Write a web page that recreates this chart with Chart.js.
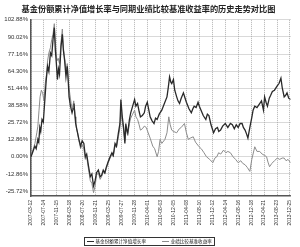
<!DOCTYPE html>
<html>
<head>
<meta charset="utf-8">
<script src="https://cdn.jsdelivr.net/npm/chart.js@4"></script>
<style>
  body { margin: 0; background: #fff; }
  #wrap { width: 300px; height: 247px; }
</style>
</head>
<body>
<div id="wrap"><canvas id="histChart"></canvas></div>
<script>
// x tick labels (one every ~4 months)
const xTickLabels = ['2007-03-12', '2007-07-14', '2007-11-15', '2008-03-18', '2008-07-20', '2008-11-21',
  '2009-03-25', '2009-07-27', '2009-11-28', '2010-04-01', '2010-08-03', '2010-12-05', '2011-04-08',
  '2011-08-10', '2011-12-12', '2012-04-14', '2012-08-16', '2012-12-18', '2013-04-21', '2013-08-23', '2013-12-25'];
const yTickValues = [-25.72, -12.86, 0, 12.86, 25.72, 38.58, 51.44, 64.30, 77.16, 90.02, 102.88];

// fund: position in tick intervals, value in %
const fundX = [0, 0.15, 0.3, 0.4, 0.53, 0.6, 0.68, 0.75, 0.85, 0.95, 1.05, 1.18, 1.28, 1.38, 1.5, 1.6, 1.7, 1.8, 1.88, 1.96,
  2.04, 2.12, 2.2, 2.32, 2.42, 2.5, 2.6, 2.7, 2.8, 2.88, 2.94, 3.05, 3.17, 3.25, 3.32, 3.4, 3.45, 3.55, 3.7, 3.83,
  3.95, 4.08, 4.2, 4.3, 4.45, 4.58, 4.7, 4.83, 4.95, 5.06, 5.2, 5.34, 5.45, 5.58, 5.7, 5.81, 5.95, 6.11, 6.25, 6.35,
  6.49, 6.6, 6.75, 6.87, 6.94, 7.05, 7.15, 7.25, 7.32, 7.4, 7.47, 7.6, 7.7, 7.85, 8.0, 8.1, 8.23, 8.35, 8.45, 8.6,
  8.75, 8.85, 8.98, 9.1, 9.2, 9.35, 9.5, 9.62, 9.74, 9.9, 10.1, 10.3, 10.5, 10.6, 10.7, 10.8, 10.87, 11.0, 11.1, 11.25,
  11.35, 11.47, 11.6, 11.77, 11.9, 12.0, 12.2, 12.38, 12.5, 12.6, 12.75, 12.9, 13.0, 13.13, 13.3, 13.5, 13.62, 13.74, 13.9, 14.1,
  14.25, 14.4, 14.5, 14.64, 14.8, 15.0, 15.2, 15.4, 15.55, 15.7, 15.85, 16.0, 16.15, 16.3, 16.4, 16.53, 16.65, 16.75, 16.9, 17.06,
  17.15, 17.28, 17.45, 17.66, 17.8, 17.95, 18.04, 18.15, 18.26, 18.4, 18.5, 18.64, 18.8, 19.0, 19.15, 19.3, 19.4, 19.55, 19.65, 19.77,
  19.9, 20.05];
const fundY = [0, 4, 8, 6, 13, 11, 22, 19, 28, 26, 40, 58, 68, 64, 78, 76, 88, 97, 80, 70,
  58, 66, 62, 83, 92, 80, 72, 60, 68, 56, 45, 38, 33, 36, 40, 30, 25, 20, 13, 8,
  12, 10, 0, 2, -7.5, -15, -13, -22, -18, -12, -10, -15, -14, -10, -12, -8, -4, 0, 3, 1,
  10, 8, 18, 25, 43, 30, 22, 10, 25, 20, 18, 28, 33, 38, 43, 38, 40, 34, 30, 31,
  33, 38, 41, 35, 30, 27, 25, 29, 28, 32, 35, 40, 45, 52, 60, 56, 55, 58, 50, 45,
  42, 40, 44, 48, 44, 41, 36, 33, 36, 38, 37, 41, 38, 35, 31, 28, 32, 31, 24, 18,
  21, 22, 19, 20, 23, 25, 22, 25, 24, 21, 24, 22, 25, 25, 22, 20, 17, 14, 22, 30,
  35, 38, 37, 40, 42, 35, 45, 41, 38, 44, 46, 49, 50, 53, 55, 59, 52, 45, 46, 48,
  44, 43];

// benchmark
const benchX = [0, 0.15, 0.3, 0.45, 0.53, 0.62, 0.7, 0.8, 0.9, 1.0, 1.1, 1.2, 1.28, 1.38, 1.5, 1.6, 1.7, 1.8, 1.9, 2.0,
  2.1, 2.2, 2.32, 2.42, 2.5, 2.6, 2.7, 2.8, 2.9, 3.0, 3.1, 3.2, 3.3, 3.4, 3.5, 3.6, 3.7, 3.83, 3.95, 4.08,
  4.2, 4.3, 4.45, 4.58, 4.7, 4.83, 4.95, 5.06, 5.2, 5.34, 5.45, 5.58, 5.7, 5.81, 5.95, 6.11, 6.25, 6.35, 6.49, 6.6,
  6.75, 6.87, 6.94, 7.05, 7.15, 7.25, 7.32, 7.4, 7.47, 7.6, 7.7, 7.85, 8.0, 8.1, 8.23, 8.35, 8.45, 8.6, 8.75, 8.9,
  9.05, 9.2, 9.4, 9.55, 9.74, 9.85, 9.97, 10.1, 10.34, 10.5, 10.64, 10.75, 10.87, 11.0, 11.25, 11.45, 11.6, 11.85, 12.0, 12.15,
  12.3, 12.53, 12.7, 12.98, 13.15, 13.36, 13.55, 13.8, 14.04, 14.2, 14.35, 14.49, 14.65, 14.87, 15.05, 15.2, 15.4, 15.6, 15.8, 16.0,
  16.2, 16.35, 16.53, 16.7, 16.9, 17.05, 17.28, 17.45, 17.66, 17.85, 18.04, 18.19, 18.3, 18.42, 18.6, 18.8, 19.02, 19.2, 19.4, 19.55,
  19.7, 19.85, 20.05];
const benchY = [0, 5, 10, 18, 23, 35, 45, 50, 48, 42, 55, 62, 72, 78, 82, 88, 92, 100, 84, 72,
  74, 70, 86, 96, 82, 74, 64, 70, 55, 47, 40, 36, 42, 32, 22, 18, 12, 6, 9, 6,
  -2, 0, -10, -18, -20, -27, -22, -14, -12, -17, -15, -11, -13, -9, -5, -1, 2, 0, 8, 7,
  15, 22, 36, 26, 20, 12, 22, 18, 16, 25, 29, 32, 35, 30, 28, 24, 20, 21, 23, 22,
  18, 14, 8, 6, 0, 4, 13, 10, 13, 18, 30, 24, 20, 19, 18, 21, 22, 25, 18, 13,
  14, 15, 11, 7.5, 6, 3, 0, -2, -4.5, -1, 0, 3, 2, 5, 3, 4, 3, 0, -2, -4.5,
  -3, -5, -6, -8, -11, -2, 7.5, 4, 4, 2, 1, 0, -4, -7.5, -5, -3, -1, -2, -1, -1,
  -3, -2, -4.5];

const toPoints = (xs, ys) => xs.map((x, i) => ({ x: x, y: ys[i] }));

// small boxed legend under the axis labels
const boxedLegend = {
  id: 'boxedLegend',
  afterDraw(chart) {
    const ctx = chart.ctx;
    const sets = chart.data.datasets;
    ctx.save();
    ctx.font = '4.6px "Noto Sans CJK SC"';
    const lineLen = 7, gap = 1.5, itemGap = 16;
    let total = 0;
    sets.forEach((ds, i) => {
      total += lineLen + gap + ctx.measureText(ds.label).width + (i ? itemGap : 0);
    });
    const cx = chart.width / 2 - 1;
    const boxL = Math.round(cx - total / 2 - 3), boxR = Math.round(cx + total / 2 + 3);
    const top = 237, h = 8, mid = top + h / 2 + 0.5;
    ctx.strokeStyle = '#333';
    ctx.lineWidth = 1;
    ctx.strokeRect(boxL + 0.5, top + 0.5, boxR - boxL, h);
    let x = boxL + 3;
    ctx.textBaseline = 'middle';
    ctx.fillStyle = '#222';
    sets.forEach((ds, i) => {
      if (i) x += itemGap;
      ctx.strokeStyle = ds.borderColor;
      ctx.beginPath();
      ctx.moveTo(x, mid);
      ctx.lineTo(x + lineLen, mid);
      ctx.stroke();
      x += lineLen + gap;
      ctx.fillText(ds.label, x, mid);
      x += ctx.measureText(ds.label).width;
    });
    ctx.restore();
  }
};

new Chart(document.getElementById('histChart'), {
  type: 'line',
  data: {
    datasets: [{
      label: '基金份额累计净值增长率',
      data: toPoints(fundX, fundY),
      borderColor: '#2a2a2a',
      borderWidth: 1.3,
      pointRadius: 0,
      tension: 0
    }, {
      label: '业绩比较基准收益率',
      data: toPoints(benchX, benchY),
      borderColor: '#8c8c8c',
      borderWidth: 1,
      pointRadius: 0,
      tension: 0
    }]
  },
  options: {
    responsive: true,
    maintainAspectRatio: false,
    animation: false,
    layout: { padding: { left: 0, right: 3, top: 0, bottom: 11 } },
    plugins: {
      title: {
        display: true,
        text: '基金份额累计净值增长率与同期业绩比较基准收益率的历史走势对比图',
        color: '#222',
        font: { family: '"Noto Sans CJK SC"', size: 8.2, weight: 'bold' },
        padding: { top: 4, bottom: 6 }
      },
      legend: { display: false },
      tooltip: { enabled: false }
    },
    scales: {
      x: {
        type: 'linear',
        min: 0,
        max: 20.05,
        afterBuildTicks: scale => {
          scale.ticks = xTickLabels.map((_, i) => ({ value: i }));
        },
        afterFit: scale => { scale.height = 40; },
        ticks: {
          autoSkip: false,
          minRotation: 90,
          maxRotation: 90,
          padding: 4,
          color: '#333',
          font: { family: 'Liberation Sans', size: 5 },
          callback: value => xTickLabels[value]
        },
        grid: { color: '#a0a0a0', lineWidth: 0.8, drawTicks: false },
        border: { display: true, color: '#555', width: 1.5, dash: [1, 1] }
      },
      y: {
        min: -29.5,
        max: 102.88,
        afterBuildTicks: scale => {
          scale.ticks = yTickValues.map(v => ({ value: v }));
        },
        afterFit: scale => { scale.width = 31; },
        ticks: {
          padding: 3,
          color: '#333',
          font: { family: 'Liberation Sans', size: 6 },
          callback: value => value.toFixed(2) + '%'
        },
        grid: { color: '#a0a0a0', lineWidth: 0.8, drawTicks: false },
        border: { display: true, color: '#555', width: 1.5, dash: [1, 1] }
      }
    }
  },
  plugins: [boxedLegend]
});
</script>
</body>
</html>
